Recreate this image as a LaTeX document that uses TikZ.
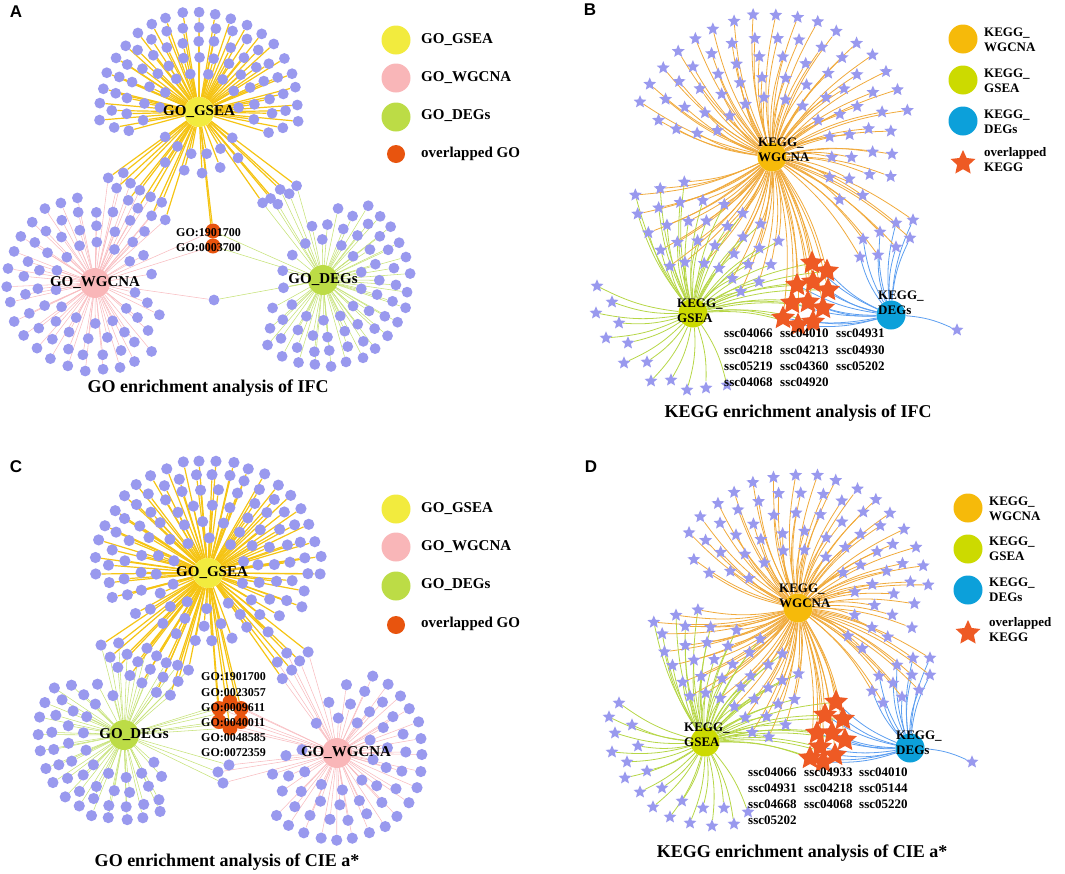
\documentclass[tikz,border=0pt]{standalone}
\usepackage{fontspec}
\setmainfont{Liberation Serif}
\newfontfamily\panelfont{Liberation Sans}
\usetikzlibrary{shapes.geometric}
\pgfdeclarelayer{bg}
\pgfdeclarelayer{fg}
\pgfsetlayers{bg,main,fg}
\definecolor{leafc}{RGB}{153,153,238}
\definecolor{gsea}{RGB}{242,235,62}
\definecolor{wgc}{RGB}{249,182,184}
\definecolor{degs}{RGB}{188,220,70}
\definecolor{ovl}{RGB}{232,84,14}
\definecolor{gseaE}{RGB}{245,196,20}
\definecolor{wgcE}{RGB}{248,188,192}
\definecolor{degsE}{RGB}{198,226,120}
\definecolor{kw}{RGB}{246,186,10}
\definecolor{kg}{RGB}{204,218,0}
\definecolor{kd}{RGB}{12,160,218}
\definecolor{kwE}{RGB}{240,170,60}
\definecolor{kgE}{RGB}{182,214,70}
\definecolor{kdE}{RGB}{92,158,240}
\definecolor{kovl}{RGB}{238,90,36}
\gdef\EdgeList{}
\def\AddEdge#1{\expandafter\gdef\expandafter\EdgeList\expandafter{\EdgeList #1}}
\newcommand\LeafRing[9]{%
  \foreach \k in {1,...,#8}{%
    \pgfmathsetmacro\ang{#6+(\k-0.5)*(#7-#6)/#8}%
    \pgfmathsetmacro\px{#3+#5*cos(\ang)+1.5*rand}%
    \pgfmathsetmacro\py{#4-#5*sin(\ang)+1.5*rand}%
    \node[#2] (#1-\k) at (\px,\py) {};%
    \foreach \h/\s in {#9}{%
      \edef\tmpE{\noexpand\draw[\s] (\h) to (#1-\k);}%
      \expandafter\AddEdge\expandafter{\tmpE}}%
  }%
}
\newcommand\LeafPts[4]{%
  \foreach \qx/\qy [count=\k] in {#3}{%
    \node[#2] (#1-\k) at (\qx,\qy) {};%
    \foreach \h/\s in {#4}{%
      \edef\tmpE{\noexpand\draw[\s] (\h) to (#1-\k);}%
      \expandafter\AddEdge\expandafter{\tmpE}}%
  }%
}
\begin{document}
\begin{tikzpicture}[x=1pt,y=-1pt,
  dotA/.style={circle,fill=leafc,inner sep=0pt,minimum size=10.8pt},
  dotC/.style={circle,fill=leafc,inner sep=0pt,minimum size=11.2pt},
  ostar/.style={star,star points=5,star point ratio=2.2,fill=leafc,inner sep=0pt,minimum size=13.5pt},
  ovdot/.style={circle,fill=ovl,inner sep=0pt,minimum size=15pt},
  ovstar/.style={star,star points=5,star point ratio=2.1,fill=kovl,inner sep=0pt,minimum size=25pt},
  hub/.style={circle,inner sep=0pt,minimum size=30pt},
  hublab/.style={font=\bfseries\fontsize{15}{15}\selectfont,inner sep=0pt},
  khublab/.style={font=\bfseries\fontsize{13}{15}\selectfont,inner sep=0pt,align=left,anchor=west},
  eG/.style={draw=gseaE,line width=1.2pt},
  eW/.style={draw=wgcE,line width=0.55pt},
  eD/.style={draw=degsE,line width=0.55pt},
  kW/.style={draw=kwE,line width=0.8pt,bend left=10},
  kG/.style={draw=kgE,line width=0.8pt,bend left=10},
  kD/.style={draw=kdE,line width=0.8pt,bend left=10},
  ttl/.style={font=\bfseries\fontsize{18}{18}\selectfont,inner sep=0pt},
  leg/.style={font=\bfseries\fontsize{15}{15}\selectfont,anchor=west,inner sep=0pt},
  kleg/.style={font=\bfseries\fontsize{13}{15}\selectfont,anchor=west,inner sep=0pt,align=left},
  ssc/.style={font=\bfseries\fontsize{13}{13}\selectfont,anchor=west,inner sep=0pt},
  golab/.style={font=\bfseries\fontsize{12}{12}\selectfont,inner sep=0pt,anchor=west},
  plab/.style={font=\panelfont\bfseries\fontsize{17}{17}\selectfont,inner sep=0pt},
]
\pgfmathsetseed{7}
\useasboundingbox (0,0) rectangle (1065,873);
%================ Panel A
\node[plab] (pA) at (16,12) {A};
\node[hub,fill=gsea] (AG) at (199,112) {};
\node[hub,fill=wgc] (AW) at (95,283) {};
\node[hub,fill=degs] (AD) at (323,280) {};
\LeafRing{Ag1}{dotA}{199}{112}{40}{-5}{185}{8}{AG/eG}
\LeafRing{Ag2}{dotA}{199}{112}{42}{205}{335}{6}{AG/eG}
\LeafRing{Ag3}{dotA}{199}{112}{56}{-15}{195}{13}{AG/eG}
\LeafRing{Ag4}{dotA}{199}{112}{60}{228}{318}{5}{AG/eG}
\LeafRing{Ag5}{dotA}{199}{112}{72}{-22}{202}{17}{AG/eG}
\LeafRing{Ag6}{dotA}{199}{112}{86}{-16}{196}{19}{AG/eG}
\LeafRing{Ag7}{dotA}{199}{112}{100}{-10}{190}{21}{AG/eG}
\LeafRing{Agw1}{dotA}{199}{112}{97}{216}{250}{5}{AG/eG,AW/eW}
\LeafRing{Agw2}{dotA}{199}{112}{113}{212}{256}{6}{AG/eG,AW/eW}
\LeafRing{Agd1}{dotA}{199}{112}{112}{303}{318}{3}{AG/eG,AD/eD}
\LeafRing{Agd2}{dotA}{199}{112}{122}{308}{326}{3}{AG/eG,AD/eD}
\LeafPts{Ao}{ovdot}{213/231,213/246}{AG/eG,AW/eW,AD/eD}
\LeafPts{Am}{dotA}{214/300}{AW/eW,AD/eD}
\LeafRing{Aw1}{dotA}{95}{283}{40}{20}{360}{13}{AW/eW}
\LeafRing{Aw2}{dotA}{95}{283}{56}{0}{350}{18}{AW/eW}
\LeafRing{Aw3}{dotA}{95}{283}{72}{40}{340}{21}{AW/eW}
\LeafRing{Aw4}{dotA}{95}{283}{88}{95}{315}{19}{AW/eW}
\LeafRing{Ad1}{dotA}{323}{280}{40}{0}{360}{14}{AD/eD}
\LeafRing{Ad2}{dotA}{323}{280}{56}{-160}{110}{16}{AD/eD}
\LeafRing{Ad3}{dotA}{323}{280}{72}{-145}{85}{17}{AD/eD}
\LeafRing{Ad4}{dotA}{323}{280}{86}{-135}{65}{18}{AD/eD}
\node[ttl] (tA) at (208,388) {GO enrichment analysis of IFC};
\node[hub,fill=gsea,minimum size=29pt] (LA1) at (396,40) {};
\node[hub,fill=wgc,minimum size=29pt] (LA2) at (396,78) {};
\node[hub,fill=degs,minimum size=29pt] (LA3) at (396,117) {};
\node[ovdot,minimum size=18pt] (LA4) at (396,154) {};
\node[leg] (tLA1) at (421,40) {GO\_GSEA};
\node[leg] (tLA2) at (421,78) {GO\_WGCNA};
\node[leg] (tLA3) at (421,116) {GO\_DEGs};
\node[leg] (tLA4) at (421,154) {overlapped GO};
%================ Panel B
\node[plab] (pB) at (590,10) {B};
\node[hub,fill=kw,minimum size=29pt] (BW) at (772,157) {};
\node[hub,fill=kg,minimum size=29pt] (BG) at (693,313) {};
\node[hub,fill=kd,minimum size=29pt] (BD) at (891,315) {};
\LeafRing{Bw1}{ostar}{772}{157}{60}{-30}{165}{10}{BW/kW}
\LeafRing{Bw2}{ostar}{772}{157}{80}{-40}{170}{13}{BW/kW}
\LeafRing{Bw3}{ostar}{772}{157}{100}{-30}{170}{15}{BW/kW}
\LeafRing{Bw4}{ostar}{772}{157}{120}{-15}{168}{17}{BW/kW}
\LeafRing{Bw5}{ostar}{772}{157}{142}{15}{162}{17}{BW/kW}
\LeafRing{Bwg1}{ostar}{693}{313}{52}{15}{125}{6}{BW/kW,BG/kG}
\LeafRing{Bwg2}{ostar}{693}{313}{72}{18}{125}{7}{BW/kW,BG/kG}
\LeafRing{Bwg3}{ostar}{693}{313}{92}{25}{125}{8}{BW/kW,BG/kG}
\LeafRing{Bwg4}{ostar}{693}{313}{112}{35}{125}{8}{BW/kW,BG/kG}
\LeafRing{Bwg5}{ostar}{693}{313}{130}{88}{122}{3}{BW/kW,BG/kG}
\LeafPts{Bwd}{ostar}{913/220,896/223,910/238,880/232,863/239,896/247,878/255,860/257}{BW/kW,BD/kD}
\LeafPts{Bg}{ostar}{597/286,612/302,596/313,619/323,606/338,628/343,624/363,647/362,651/381,671/380,687/390,706/388,727/385}{BG/kG}
\LeafPts{Bd}{ostar}{957/330}{BD/kD}
\LeafPts{Bo}{ovstar}{812/263,827/271,797/285,813/282,828/290,792/303,808/302,823/308,783/318,798/325,813/322}{BW/kW,BG/kG,BD/kD}
\node[ttl] (tB) at (798,413) {KEGG enrichment analysis of IFC};
\node[hub,fill=kw,minimum size=29pt] (LB1) at (963,39) {};
\node[hub,fill=kg,minimum size=29pt] (LB2) at (963,80) {};
\node[hub,fill=kd,minimum size=29pt] (LB3) at (963,121) {};
\node[ovstar,minimum size=26pt] (LB4) at (963,163) {};
\node[kleg] (tLB1) at (984,40) {KEGG\_\\WGCNA};
\node[kleg] (tLB2) at (984,81) {KEGG\_\\GSEA};
\node[kleg] (tLB3) at (984,122) {KEGG\_\\DEGs};
\node[kleg] (tLB4) at (984,160) {overlapped\\KEGG};
%================ Panel C
\node[plab] (pC) at (16,467) {C};
\node[hub,fill=gsea] (CG) at (208,573) {};
\node[hub,fill=degs] (CD) at (124,735) {};
\node[hub,fill=wgc] (CW) at (337,753) {};
\LeafRing{Cg1}{dotC}{208}{573}{36}{0}{360}{10}{CG/eG}
\LeafRing{Cg2}{dotC}{208}{573}{52}{0}{360}{17}{CG/eG}
\LeafRing{Cg3}{dotC}{208}{573}{68}{0}{360}{23}{CG/eG}
\LeafRing{Cg4}{dotC}{208}{573}{84}{-50}{215}{21}{CG/eG}
\LeafRing{Cg5}{dotC}{208}{573}{99}{-25}{200}{23}{CG/eG}
\LeafRing{Cg6}{dotC}{208}{573}{113}{-5}{185}{22}{CG/eG}
\LeafRing{Cgd1}{dotC}{208}{573}{98}{228}{262}{5}{CG/eG,CD/eD}
\LeafRing{Cgd2}{dotC}{208}{573}{113}{214}{258}{6}{CG/eG,CD/eD}
\LeafRing{Cgd3}{dotC}{208}{573}{129}{210}{256}{7}{CG/eG,CD/eD}
\LeafRing{Cgw1}{dotC}{208}{573}{113}{305}{318}{2}{CG/eG,CW/eW}
\LeafRing{Cgw2}{dotC}{208}{573}{128}{302}{325}{4}{CG/eG,CW/eW}
\LeafPts{Co}{ovdot}{230/702,241/708.5,241/721.5,230/728,219/721.5,219/708.5}{CG/eG,CD/eD,CW/eW}
\LeafPts{Cwd}{dotC}{218/772,229/765,223/783}{CW/eW,CD/eD}
\LeafRing{Cd1}{dotC}{124}{735}{42}{95}{330}{10}{CD/eD}
\LeafRing{Cd2}{dotC}{124}{735}{57}{110}{320}{12}{CD/eD}
\LeafRing{Cd3}{dotC}{124}{735}{72}{130}{305}{13}{CD/eD}
\LeafRing{Cd4}{dotC}{124}{735}{85}{140}{300}{14}{CD/eD}
\LeafRing{Cw1}{dotC}{337}{753}{36}{-200}{140}{10}{CW/eW}
\LeafRing{Cw2}{dotC}{337}{753}{52}{-190}{110}{13}{CW/eW}
\LeafRing{Cw3}{dotC}{337}{753}{68}{-170}{90}{16}{CW/eW}
\LeafRing{Cw4}{dotC}{337}{753}{86}{-140}{70}{19}{CW/eW}
\node[ttl] (tC) at (227,862) {GO enrichment analysis of CIE a*};
\node[hub,fill=gsea,minimum size=29pt] (LC1) at (396,509) {};
\node[hub,fill=wgc,minimum size=29pt] (LC2) at (396,547) {};
\node[hub,fill=degs,minimum size=29pt] (LC3) at (396,586) {};
\node[ovdot,minimum size=18pt] (LC4) at (396,625) {};
\node[leg] (tLC1) at (421,509) {GO\_GSEA};
\node[leg] (tLC2) at (421,547) {GO\_WGCNA};
\node[leg] (tLC3) at (421,585) {GO\_DEGs};
\node[leg] (tLC4) at (421,624) {overlapped GO};
%================ Panel D
\node[plab] (pD) at (591,467) {D};
\node[hub,fill=kw,minimum size=29pt] (DW) at (798,608) {};
\node[hub,fill=kg,minimum size=29pt] (DG) at (705,742) {};
\node[hub,fill=kd,minimum size=29pt] (DD) at (910,748) {};
\LeafRing{Dw1}{ostar}{798}{608}{58}{-40}{160}{9}{DW/kW}
\LeafRing{Dw2}{ostar}{798}{608}{77}{-40}{160}{12}{DW/kW}
\LeafRing{Dw3}{ostar}{798}{608}{96}{-25}{165}{14}{DW/kW}
\LeafRing{Dw4}{ostar}{798}{608}{115}{-15}{160}{16}{DW/kW}
\LeafRing{Dw5}{ostar}{798}{608}{133}{5}{150}{16}{DW/kW}
\LeafRing{Dwg1}{ostar}{705}{742}{48}{0}{120}{6}{DW/kW,DG/kG}
\LeafRing{Dwg2}{ostar}{705}{742}{65}{-5}{120}{7}{DW/kW,DG/kG}
\LeafRing{Dwg3}{ostar}{705}{742}{82}{5}{120}{8}{DW/kW,DG/kG}
\LeafRing{Dwg4}{ostar}{705}{742}{99}{20}{120}{8}{DW/kW,DG/kG}
\LeafRing{Dwg5}{ostar}{705}{742}{116}{30}{118}{7}{DW/kW,DG/kG}
\LeafRing{Dwg6}{ostar}{705}{742}{131}{88}{118}{3}{DW/kW,DG/kG}
\LeafPts{Dwd}{ostar}{913/658,930/658,897/665,930/675,912/675,879/676,893/683,919/690,902/697,872/691,883/703}{DW/kW,DD/kD}
\LeafPts{Dg}{ostar}{619/703,609/717,632/725,615/733,638/746,612/752,627/762,647/771,625/778,662/788,640/792,682/801,653/807,703/808,724/808,670/817,690/823,712/826,734/824,748/812}{DG/kG}
\LeafPts{Dd}{ostar}{972/762}{DD/kD}
\LeafPts{Do}{ovstar}{836/702,825/715,843/719,817/733,832/733,845/740,820/747,835/755,810/758,823/762}{DW/kW,DG/kG,DD/kD}
\node[ttl] (tD) at (802,853) {KEGG enrichment analysis of CIE a*};
\node[hub,fill=kw,minimum size=29pt] (LD1) at (968,508) {};
\node[hub,fill=kg,minimum size=29pt] (LD2) at (968,549) {};
\node[hub,fill=kd,minimum size=29pt] (LD3) at (968,590) {};
\node[ovstar,minimum size=26pt] (LD4) at (968,633) {};
\node[kleg] (tLD1) at (989,509) {KEGG\_\\WGCNA};
\node[kleg] (tLD2) at (989,549) {KEGG\_\\GSEA};
\node[kleg] (tLD3) at (989,590) {KEGG\_\\DEGs};
\node[kleg] (tLD4) at (989,630) {overlapped\\KEGG};
%================ connectors and labels on top
\begin{pgfonlayer}{bg}
\EdgeList
\end{pgfonlayer}
\begin{pgfonlayer}{fg}
\node[hublab] (lAG) at (AG) {GO\_GSEA};
\node[hublab] (lAW) at (AW) {GO\_WGCNA};
\node[hublab] (lAD) at (AD) {GO\_DEGs};
\node[golab] (go1) at (176,233) {GO:1901700};
\node[golab] (go2) at (176,248) {GO:0003700};
\node[khublab] (lBW) at (758,150) {KEGG\_\\WGCNA};
\node[khublab] (lBG) at (677,311) {KEGG\_\\GSEA};
\node[khublab] (lBD) at (878,303) {KEGG\_\\DEGs};
\node[ssc] (sb1) at (724,333) {ssc04066};
\node[ssc] (sb2) at (780,333) {ssc04010};
\node[ssc] (sb3) at (836,333) {ssc04931};
\node[ssc] (sb4) at (724,350) {ssc04218};
\node[ssc] (sb5) at (780,350) {ssc04213};
\node[ssc] (sb6) at (836,350) {ssc04930};
\node[ssc] (sb7) at (724,366) {ssc05219};
\node[ssc] (sb8) at (780,366) {ssc04360};
\node[ssc] (sb9) at (836,366) {ssc05202};
\node[ssc] (sb10) at (724,382) {ssc04068};
\node[ssc] (sb11) at (780,382) {ssc04920};
\node[hublab] (lCG) at (212,573) {GO\_GSEA};
\node[hublab] (lCD) at (134,735) {GO\_DEGs};
\node[hublab] (lCW) at (346,753) {GO\_WGCNA};
\node[golab] (gc1) at (201,677) {GO:1901700};
\node[golab] (gc2) at (201,693) {GO:0023057};
\node[golab] (gc3) at (201,708) {GO:0009611};
\node[golab] (gc4) at (201,723) {GO:0040011};
\node[golab] (gc5) at (201,738) {GO:0048585};
\node[golab] (gc6) at (201,753) {GO:0072359};
\node[khublab] (lDW) at (779,596) {KEGG\_\\WGCNA};
\node[khublab] (lDG) at (684,735) {KEGG\_\\GSEA};
\node[khublab] (lDD) at (896,743) {KEGG\_\\DEGs};
\node[ssc] (sd1) at (748,772) {ssc04066};
\node[ssc] (sd2) at (804,772) {ssc04933};
\node[ssc] (sd3) at (859,772) {ssc04010};
\node[ssc] (sd4) at (748,788) {ssc04931};
\node[ssc] (sd5) at (804,788) {ssc04218};
\node[ssc] (sd6) at (859,788) {ssc05144};
\node[ssc] (sd7) at (748,804) {ssc04668};
\node[ssc] (sd8) at (804,804) {ssc04068};
\node[ssc] (sd9) at (859,804) {ssc05220};
\node[ssc] (sd10) at (748,820) {ssc05202};
\end{pgfonlayer}
\end{tikzpicture}
\end{document}
